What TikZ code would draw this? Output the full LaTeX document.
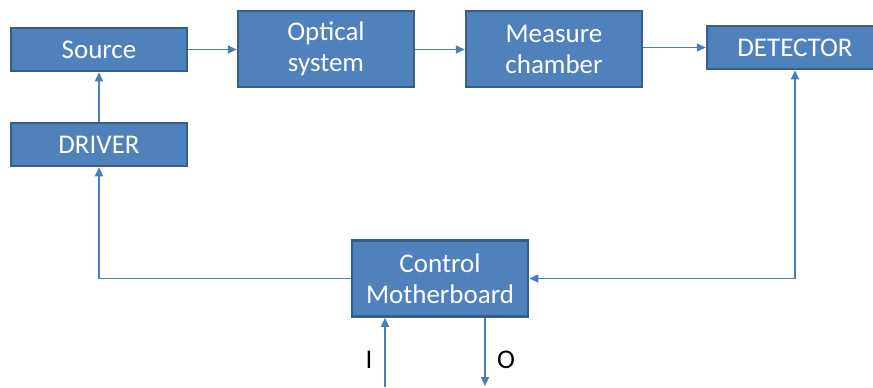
\documentclass[tikz,border=0pt]{standalone}
\usepackage{fontspec}
\setmainfont{Carlito}
\usetikzlibrary{arrows.meta,calc}
\definecolor{boxfill}{HTML}{4F81BD}
\definecolor{boxedge}{HTML}{385D8A}
\definecolor{linecol}{HTML}{4A7EBB}
\begin{document}
\begin{tikzpicture}[x=1bp,y=-1bp,
  blockbox/.style={draw=boxedge,line width=2.5bp,fill=boxfill,text=white,
    minimum width=176bp,inner sep=0pt,align=center,
    font=\fontsize{27bp}{31bp}\selectfont},
  lowbox/.style={blockbox,minimum height=43bp},
  highbox/.style={blockbox,minimum height=76bp},
  conn/.style={draw=linecol,line width=1.5bp,-{Triangle[length=9bp,width=8bp]}},
  iolabel/.style={text=black,inner sep=0pt,font=\fontsize{27bp}{31bp}\selectfont}]
\useasboundingbox (0,0) rectangle (873,387);
\node[lowbox]  (src)  at (99,49.5)  {Source};
\node[highbox] (opt)  at (326,49)   {Optical\\system};
\node[highbox] (meas) at (554,49)   {Measure\\chamber};
\node[lowbox]  (det)  at (795,47.5) {DETECTOR};
\node[lowbox]  (drv)  at (99,144.5) {DRIVER};
\node[highbox] (ctl)  at (440,278.5) {Control\\Motherboard};
\coordinate (iin) at (385,387);
\coordinate (oout) at (485,386);
\draw[conn] (src.east) -- (src.east -| opt.west);
\draw[conn] (opt.east |- 0,49.5) -- (meas.west |- 0,49.5);
\draw[conn] (det.west -| meas.east) -- (det.west);
\draw[conn] (drv.north) -- (src.south);
\draw[conn] (ctl.west) -| (drv.south);
\draw[conn,{Triangle[length=9bp,width=8bp]}-{Triangle[length=9bp,width=8bp]}] (det.south) |- (ctl.east);
\draw[conn] (iin) -- (iin |- ctl.south);
\draw[conn] (oout |- ctl.south) -- (oout);
\node[iolabel] (ilab) at (369,360) {I};
\node[iolabel] (olab) at (506,360) {O};
\end{tikzpicture}
\end{document}
